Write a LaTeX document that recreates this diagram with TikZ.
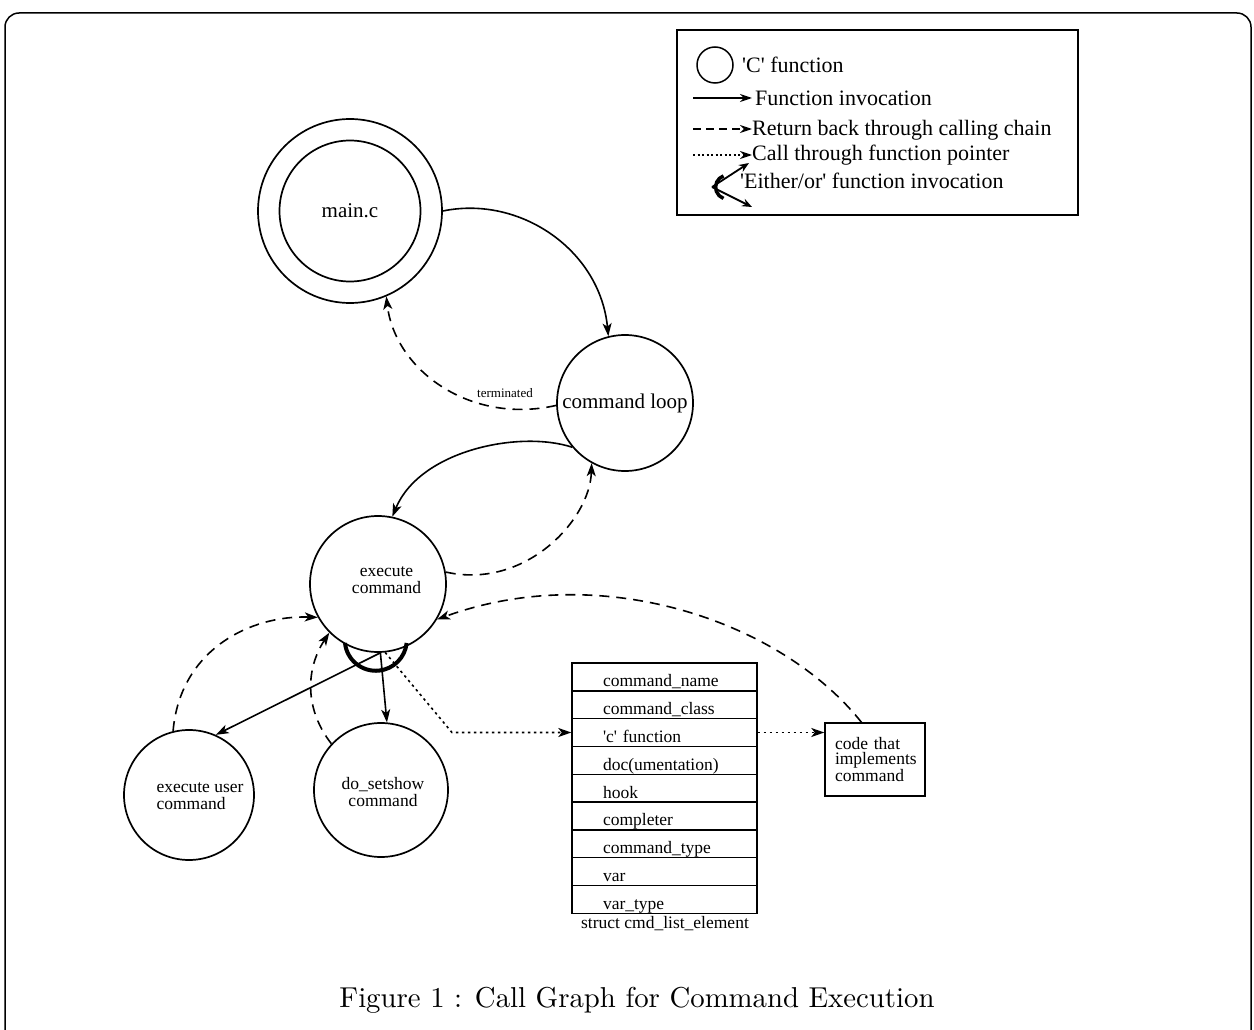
\documentclass[tikz,border=0pt]{standalone}
\usepackage{fontspec}
\usepackage{graphicx}
\usetikzlibrary{arrows.meta}
\newfontfamily\dfont{Liberation Serif}
\newcommand{\bigtxt}{\dfont\fontsize{21}{24}\selectfont}
\newcommand{\midtxt}{\dfont\fontsize{17.5}{17}\selectfont}
\newcommand{\legtxt}{\dfont\fontsize{22}{24}\selectfont}
\begin{document}
\begin{tikzpicture}[x=1pt,y=-1pt,
  fn/.style={circle, draw, line width=1.7pt, inner sep=0pt, font=\bigtxt, align=center},
  fnlabel/.style={font=\midtxt, align=center},
  call/.style={line width=1.6pt, -{Stealth[length=13pt,width=9pt,inset=3.5pt]}},
  ret/.style={call, dash pattern=on 10pt off 7pt},
  fptr/.style={call, dash pattern=on 2.5pt off 3.5pt},
  rowbox/.style={draw, line width=1.4pt, minimum width=185pt, minimum height=27.8pt,
    inner xsep=31pt, inner ysep=0pt, text width=123pt, align=left,
    text height=23.8pt, text depth=4pt, font=\midtxt},
  legarrow/.style={line width=1.4pt, -{Stealth[length=12pt,width=8pt]}},
  legtext/.style={anchor=base west, font=\legtxt, inner sep=0pt}
]
\useasboundingbox (0,0) rectangle (1254,1030);
\clip (0,0) rectangle (1254,1030);

% page frame
\draw[line width=1.5pt, rounded corners=14pt] (5,13) rectangle (1251,1045);

% legend
\draw[line width=1.4pt] (677,30) rectangle (1078,215);
\node[circle, draw, line width=1.5pt, minimum size=36pt, inner sep=0pt] (legfn) at (715,65) {};
\node[legtext] (legfntext) at (742,73) {'C' function};
\coordinate (lsa) at (693,98); \coordinate (lsb) at (752,98);
\draw[legarrow] (lsa) -- (lsb);
\node[legtext] (legcall) at (755,106) {Function invocation};
\coordinate (lda) at (693,129); \coordinate (ldb) at (752,129);
\draw[legarrow, dash pattern=on 8pt off 5pt] (lda) -- (ldb);
\node[legtext] (legret) at (752,136) {Return back through calling chain};
\coordinate (lpa) at (693,155); \coordinate (lpb) at (752,155);
\draw[legarrow, dash pattern=on 2pt off 2.5pt] (lpa) -- (lpb);
\node[legtext] (legptr) at (752,161) {Call through function pointer};
% either/or symbol: thick arc crossed by two calls
\coordinate (leo) at (712,187);
\coordinate (leu) at (749,163);
\coordinate (led) at (752,207);
\draw[line width=3.5pt] (723.5,175.9) arc[start angle=250, end angle=110, radius=12];
\draw[line width=1.8pt, -{Stealth[length=10pt,width=8pt]}] (leo) -- (leu);
\draw[line width=1.8pt, -{Stealth[length=10pt,width=8pt]}] (leo) -- (led);
\node[legtext] (legeo) at (740,189) {'Either/or' function invocation};

% functions
\node[fn, minimum size=184pt] (mainc) at (350,211) {};
\node[fn, minimum size=141pt] (maininner) at (350,211) {main.c};
\node[fn, minimum size=136pt] (loop) at (625,403) {command loop};
\node[fn, minimum size=136pt,
  label={[fnlabel, xshift=8.5pt, yshift=3.5pt]center:execute\\command}] (exec) at (378,584) {};
\node[fn, minimum size=130pt,
  label={[fnlabel, align=left, xshift=11pt, yshift=-1.5pt]center:execute user\\command}] (user) at (189,795) {};
\node[fn, minimum size=134pt,
  label={[fnlabel, xshift=2pt, yshift=-2.5pt]center:do\_setshow\\command}] (setshow) at (381,790) {};

% struct cmd_list_element
\foreach \t [count=\i] in {command\_name, command\_class, 'c' function,
    doc(umentation), hook, completer, command\_type, var, var\_type}
  \node[rowbox] (r\i) at (664.5, {676.9+27.8*(\i-1)}) {\t};
\node[font=\midtxt, anchor=base] (structname) at (665,928) {struct cmd\_list\_element};

% command implementation
\node[draw, line width=1.4pt, minimum width=100pt, minimum height=73pt,
  inner xsep=10pt, text width=80pt, align=left,
  font=\dfont\fontsize{17.5}{15.5}\selectfont] (code) at (875,759.5) {code that\\implements\\command};

% calls and returns
\draw[call] (mainc.0) .. controls (520,195) and (600,250) .. (loop.104);
\draw[ret] (loop.182) .. controls (470,425) and (395,370) .. (mainc.-67);
\node[font=\dfont\fontsize{13}{13}\selectfont] (term) at (505,393) {terminated};
\draw[call] (loop.220) .. controls (520,430) and (420,450) .. (exec.78);
\draw[ret] (exec.10) .. controls (525,590) and (590,520) .. (loop.241);
\draw[ret] (code.110) .. controls (780,620) and (600,560) .. (exec.-31);
\draw[ret] (user.104) .. controls (180,650) and (250,615) .. (exec.209);
\draw[ret] (setshow.137) .. controls (305,710) and (305,670) .. (exec.225);
\draw[call] (exec.-88) -- (user.66);
\draw[call] (exec.-88) -- (setshow.85);
\draw[line width=4pt] (345,643) arc[start angle=174, end angle=6, radius=31];
\coordinate (bend) at (452,732.5);
\draw[fptr] (exec.-84) -- (bend) -- (r3.west);
\draw[fptr] (r3.east) -- (r3.east -| code.west);

% caption
\node[anchor=base, inner sep=0pt] (caption) at (637,1007)
  {\resizebox{595pt}{!}{Figure 1 : Call Graph for Command Execution}};
\end{tikzpicture}
\end{document}
